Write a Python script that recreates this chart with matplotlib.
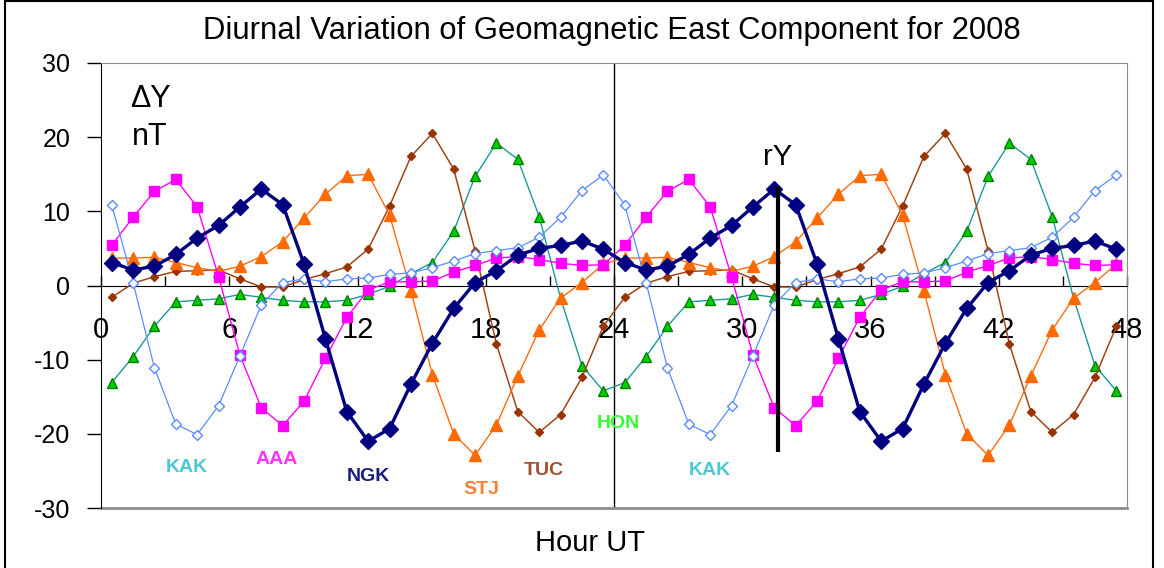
import numpy as np
import matplotlib.pyplot as plt
from matplotlib.patches import Rectangle

"""
DATA  (hourly mean deviation of Y, nT, read off the 2008 plot; one day, shown twice)
"""
hour_of_day = np.arange(24) + 0.5

kak = [10.9, 0.4, -11.1, -18.7, -20.1, -16.2, -9.5, -2.6, 0.4, 0.9, 0.5, 0.9,
       1.0, 1.5, 1.7, 2.4, 3.3, 4.3, 4.7, 5.1, 6.5, 9.2, 12.8, 14.9]
aaa = [5.4, 9.2, 12.7, 14.3, 10.6, 1.2, -9.4, -16.5, -18.9, -15.6, -9.8, -4.3,
       -0.6, 0.5, 0.5, 0.6, 1.8, 2.7, 3.7, 3.9, 3.5, 3.0, 2.7, 2.8]
ngk = [3.1, 2.1, 2.6, 4.2, 6.4, 8.1, 10.6, 13.0, 10.9, 2.9, -7.2, -17.0,
       -21.0, -19.3, -13.3, -7.8, -3.1, 0.4, 2.0, 4.1, 5.0, 5.4, 6.0, 4.9]
stj = [3.7, 3.7, 3.8, 3.1, 2.4, 1.9, 2.6, 3.9, 5.9, 9.1, 12.3, 14.8,
       15.0, 9.5, -0.7, -12.0, -20.0, -22.9, -18.8, -12.2, -6.0, -1.7, 0.4, 2.9]
tuc = [-1.6, 0.3, 1.2, 1.9, 2.0, 2.1, 0.9, -0.2, -0.2, 0.8, 1.6, 2.5,
       4.9, 10.7, 17.4, 20.5, 15.7, 4.7, -7.9, -17.0, -19.8, -17.4, -12.4, -5.5]
hon = [-13.1, -9.6, -5.5, -2.2, -2.0, -1.8, -1.2, -1.6, -2.0, -2.2, -2.2, -2.0,
       -1.2, -0.1, 1.6, 3.1, 7.3, 14.7, 19.2, 17.0, 9.3, -1.7, -10.8, -14.2]

# station name labels (hour, nT)
label_names = ['KAK', 'AAA', 'NGK', 'STJ', 'TUC', 'HON', 'KAK']
label_x = [4.0, 8.2, 12.5, 17.8, 20.7, 24.2, 28.5]
label_y = [-24.6, -23.5, -25.8, -27.5, -24.9, -18.6, -24.9]
label_colors = ['#4cc8d6', '#ff33ff', '#1c1c80', '#ff7f33', '#a0522d', '#33ff33', '#4cc8d6']

# rY marker line
ry_hour = 31.65
ry_top = 13.4
ry_bottom = -22.4

plt.rcParams['font.family'] = ['Liberation Sans', 'DejaVu Sans']
plt.rcParams['axes.unicode_minus'] = False


def two_days(values):
    # same day drawn again for hours 24-48
    return np.concatenate([hour_of_day, hour_of_day + 24]), np.tile(values, 2)


def main():
    fig = plt.figure(figsize=(11.64, 5.68), dpi=100)
    ax = fig.add_axes([101 / 1164, 1 - 508 / 568, 1026 / 1164, 445 / 568])

    # series: (values, line colour, marker, marker size, face, edge, line width)
    series = [
        (hon, '#1a9a96', '^', 7, '#00cc00', '#008000', 1.0),
        (tuc, '#a0461a', 'D', 4.2, '#993300', '#993300', 1.1),
        (stj, '#ff6a10', '^', 8, '#ff6a00', '#ff6a00', 1.0),
        (aaa, '#ff00ff', 's', 6.5, '#ff00ff', '#ff00ff', 1.0),
        (kak, '#5a8cff', 'D', 5, 'white', '#5a8cff', 0.9),
        (ngk, '#000080', 'D', 8.5, '#000080', '#000080', 2.4),
    ]
    for vals, col, mk, ms, fc, ec, lw in series:
        x, y = two_days(vals)
        ax.plot(x, y, color=col, lw=lw, marker=mk, ms=ms, mfc=fc, mec=ec, mew=1.0, zorder=3)

    ax.set_xlim(0, 48)
    ax.set_ylim(-30, 30)

    # x axis sits on zero, frame kept grey
    ax.spines['bottom'].set_position(('data', 0))
    ax.spines['bottom'].set_color('black')
    ax.spines['left'].set_color('black')
    ax.spines['top'].set_color('#8c8c8c')
    ax.spines['right'].set_color('#8c8c8c')
    ax.axhline(-30, color='#8c8c8c', lw=2, clip_on=False)
    ax.axvline(24, color='black', lw=1, zorder=1)

    ax.set_xticks(np.arange(0, 49, 6))
    ax.set_xticks(np.arange(0, 49, 3), minor=True)
    ax.tick_params(axis='x', which='both', direction='in', length=7, width=1,
                   labelsize=21, pad=22)
    ax.set_yticks(np.arange(-30, 31, 10))
    ax.tick_params(axis='y', direction='out', length=10, width=1, labelsize=18, pad=12)

    ax.vlines(ry_hour, ry_bottom, ry_top, color='black', lw=3, zorder=4)
    ax.text(ry_hour, 17.3, 'rY', fontsize=21, ha='center', va='center')
    ax.text(2.3, 25.2, 'ΔY', fontsize=22, ha='center', va='center')
    ax.text(2.3, 20.0, 'nT', fontsize=22, ha='center', va='center')

    for name, lx, ly, c in zip(label_names, label_x, label_y, label_colors):
        ax.text(lx, ly, name, color=c, fontsize=14, fontweight='bold', ha='center', va='center')

    fig.text(612 / 1164, 1 - 31 / 568, 'Diurnal Variation of Geomagnetic East Component for 2008',
             fontsize=22.3, ha='center', va='center')
    fig.text(590 / 1164, 1 - 543 / 568, 'Hour UT', fontsize=21, ha='center', va='center')

    # outer chart border
    fig.add_artist(Rectangle((5 / 1164, -0.01), 1148 / 1164, 1.008, transform=fig.transFigure,
                             fill=False, edgecolor='black', lw=1.5))

    fig.savefig('out.png', dpi=100)


if __name__ == "__main__":
    main()
